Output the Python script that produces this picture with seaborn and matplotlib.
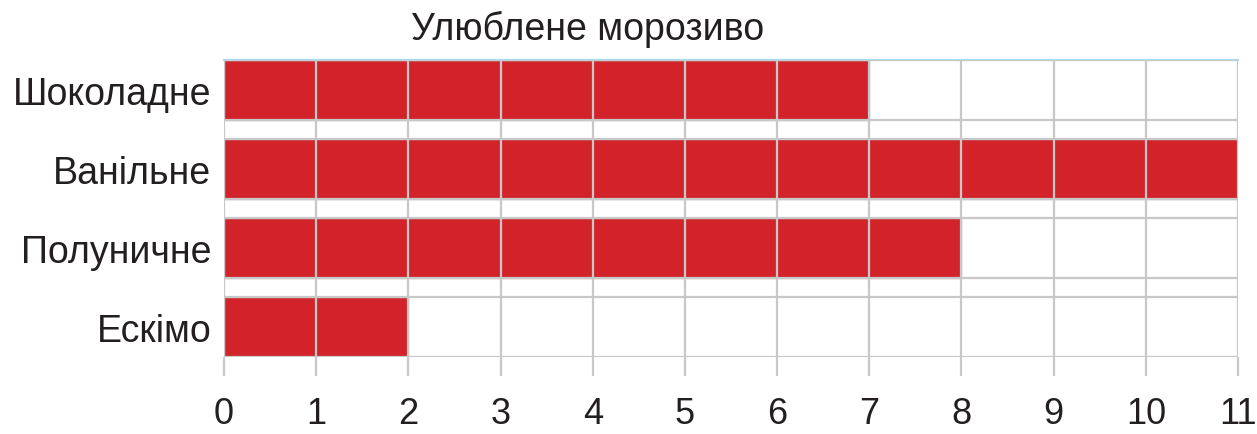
import matplotlib
matplotlib.use("Agg")
import matplotlib.pyplot as plt
import seaborn as sns
import pandas as pd
import numpy as np

# Favourite ice cream survey
flavours = ["Шоколадне", "Ванільне", "Полуничне", "Ескімо"]
votes = [7, 11, 8, 2]
x_ticks = list(range(0, 12))
title = "Улюблене морозиво"

df = pd.DataFrame({"flavour": flavours, "votes": votes})

sns.set_theme(style="white")
plt.rcParams["font.family"] = ["Liberation Sans", "DejaVu Sans"]

bar_color = "#D2232A"
grid_color = "#C8C8C8"
text_color = "#231F20"
bar_width = 0.76

fig = plt.figure(figsize=(12.57, 4.35), dpi=100)
ax = fig.add_axes([224 / 1257, 77 / 435, 1014 / 1257, 297 / 435])

sns.barplot(data=df, x="votes", y="flavour", orient="h", color=bar_color,
            width=bar_width, edgecolor="#A8A8A8", linewidth=1.0,
            saturation=1, ax=ax, zorder=1)

half = bar_width / 2
ax.set_xlim(0, 11)
ax.set_ylim(len(flavours) - 1 + half, -half)

# horizontal guide lines along the bar edges
edges = sorted({i + s * half for i in range(len(flavours)) for s in (-1, 1)})
ax.set_yticks(edges, minor=True)
ax.set_xticks(x_ticks)
ax.grid(True, which="major", axis="x", color=grid_color, linewidth=1.6, zorder=2)
ax.grid(True, which="minor", axis="y", color=grid_color, linewidth=1.6, zorder=2)
ax.set_axisbelow(False)

ax.set_xlabel("")
ax.set_ylabel("")

for side in ("left", "right", "bottom"):
    ax.spines[side].set_visible(False)
ax.spines["top"].set_color("#A8DCF0")
ax.spines["top"].set_linewidth(1.6)

ax.tick_params(axis="x", which="major", length=14, width=1.6, color=grid_color,
               pad=14, labelsize=26, labelcolor=text_color, bottom=True)
ax.tick_params(axis="y", which="major", length=0, pad=9, labelsize=27,
               labelcolor=text_color)
ax.tick_params(axis="y", which="minor", length=0)

fig.text(588 / 1257, 395 / 435, title, ha="center", va="baseline",
         fontsize=27, color=text_color)

fig.savefig("out.png", dpi=100)
